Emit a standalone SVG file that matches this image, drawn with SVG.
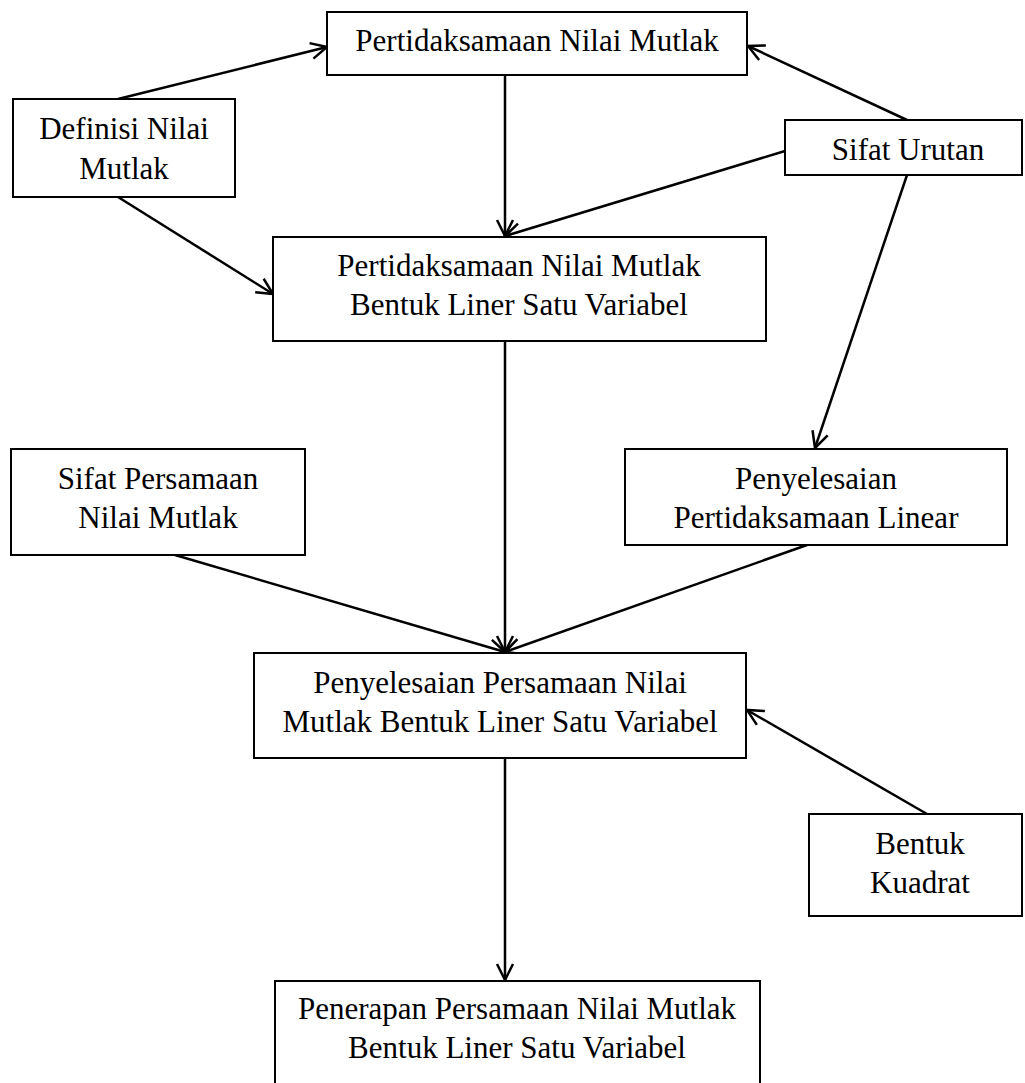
<svg xmlns="http://www.w3.org/2000/svg" width="1025" height="1083" viewBox="0 0 1025 1083">
<defs>
<style>
.box{fill:#fff;stroke:#000;stroke-width:2}
.t{font-family:"Liberation Serif","DejaVu Serif",serif;font-size:31px;fill:#000;text-anchor:middle}
.c{stroke:#000;stroke-width:2.5;fill:none;marker-end:url(#arr)}
</style>
<marker id="arr" viewBox="0 0 20 20" refX="18" refY="10" markerWidth="20" markerHeight="20" markerUnits="userSpaceOnUse" orient="auto">
<path d="M2,2 L18,10 L2,18" fill="none" stroke="#000" stroke-width="2.5"/>
</marker>
</defs>
<rect width="1025" height="1083" fill="#fff"/>
<g id="connectors">
<line class="c" x1="118" y1="99" x2="327" y2="47"/>
<line class="c" x1="118" y1="197" x2="273" y2="294"/>
<line class="c" x1="505" y1="75" x2="505" y2="236"/>
<line class="c" x1="907" y1="120" x2="748" y2="46"/>
<line class="c" x1="785" y1="151" x2="505" y2="236"/>
<line class="c" x1="907" y1="175" x2="815" y2="448"/>
<line class="c" x1="505" y1="341" x2="505" y2="652"/>
<line class="c" x1="175" y1="555" x2="505" y2="652"/>
<line class="c" x1="807" y1="545" x2="505" y2="652"/>
<line class="c" x1="927" y1="814" x2="747" y2="710"/>
<line class="c" x1="505" y1="758" x2="505" y2="980"/>
</g>
<g id="n1"><rect class="box" x="327" y="12" width="420" height="63"/><text class="t" x="537" y="51">Pertidaksamaan Nilai Mutlak</text></g>
<g id="n2"><rect class="box" x="13" y="99" width="222" height="98"/><text class="t" x="124" y="139">Definisi Nilai</text><text class="t" x="124" y="179">Mutlak</text></g>
<g id="n3"><rect class="box" x="785" y="120" width="237" height="55"/><text class="t" x="908" y="160">Sifat Urutan</text></g>
<g id="n4"><rect class="box" x="273" y="237" width="493" height="104"/><text class="t" x="519" y="276">Pertidaksamaan Nilai Mutlak</text><text class="t" x="519" y="315">Bentuk Liner Satu Variabel</text></g>
<g id="n5"><rect class="box" x="11" y="449" width="294" height="106"/><text class="t" x="158" y="489">Sifat Persamaan</text><text class="t" x="158" y="528">Nilai Mutlak</text></g>
<g id="n6"><rect class="box" x="625" y="449" width="382" height="96"/><text class="t" x="816" y="489">Penyelesaian</text><text class="t" x="816" y="528">Pertidaksamaan Linear</text></g>
<g id="n7"><rect class="box" x="254" y="653" width="492" height="105"/><text class="t" x="500" y="693">Penyelesaian Persamaan Nilai</text><text class="t" x="500" y="732">Mutlak Bentuk Liner Satu Variabel</text></g>
<g id="n8"><rect class="box" x="809" y="814" width="213" height="102"/><text class="t" x="920" y="854">Bentuk</text><text class="t" x="920" y="893">Kuadrat</text></g>
<g id="n9"><rect class="box" x="275" y="981" width="485" height="110"/><text class="t" x="517" y="1019">Penerapan Persamaan Nilai Mutlak</text><text class="t" x="517" y="1058">Bentuk Liner Satu Variabel</text></g>
</svg>
